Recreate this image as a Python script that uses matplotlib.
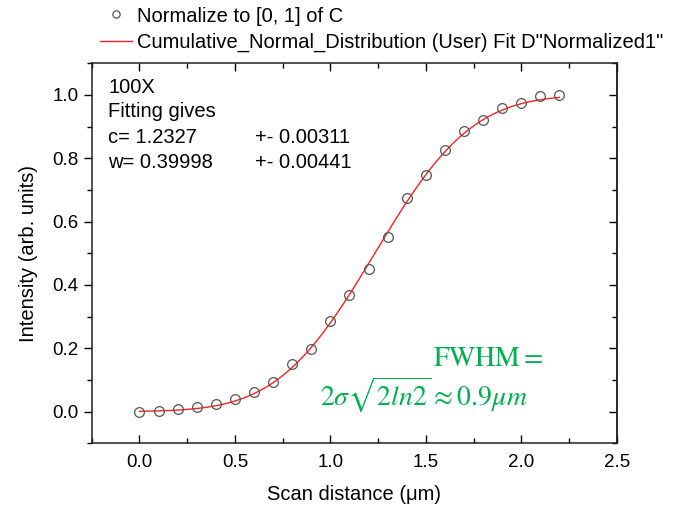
import math
import numpy as np
import matplotlib
matplotlib.use("Agg")
import matplotlib.pyplot as plt
from matplotlib.ticker import MultipleLocator

plt.rcParams['font.family'] = ['Liberation Sans', 'DejaVu Sans']
plt.rcParams['mathtext.fontset'] = 'stix'

# measured points (normalized intensity)
scan_x = [0.0, 0.1, 0.2, 0.3, 0.4, 0.5, 0.6, 0.7, 0.8, 0.9, 1.0, 1.1,
          1.2, 1.3, 1.4, 1.5, 1.6, 1.7, 1.8, 1.9, 2.0, 2.1, 2.2]
intensity = [0.000, 0.003, 0.008, 0.016, 0.024, 0.040, 0.061, 0.095, 0.150,
             0.199, 0.287, 0.367, 0.449, 0.552, 0.676, 0.746, 0.827, 0.885,
             0.920, 0.958, 0.976, 0.998, 1.000]

# fit parameters shown on the chart
c_fit = 1.2327
w_fit = 0.39998

xs = np.linspace(0, 2.2, 300)
fit_y = np.array([0.5 * (1 + math.erf((v - c_fit) / (w_fit * math.sqrt(2)))) for v in xs])

fig = plt.figure(figsize=(6.78, 5.05), dpi=100)
ax = fig.add_axes([0.1353, 0.1222, 0.7743, 0.7525])

pts, = ax.plot(scan_x, intensity, 'o', mfc='none', mec='#555555', mew=0.9,
               ms=7, label='Normalize to [0, 1] of C', zorder=3)
line, = ax.plot(xs, fit_y, '-', color='#ff2020', lw=1.0,
                label='Cumulative_Normal_Distribution (User) Fit D"Normalized1"', zorder=2)

ax.set_xlim(-0.25, 2.5)
ax.set_ylim(-0.1, 1.1)
ax.xaxis.set_major_locator(MultipleLocator(0.5))
ax.xaxis.set_minor_locator(MultipleLocator(0.25))
ax.yaxis.set_major_locator(MultipleLocator(0.2))
ax.yaxis.set_minor_locator(MultipleLocator(0.1))
ax.tick_params(axis='x', which='both', direction='in', top=True, bottom=True, labelsize=13.5, pad=8)
ax.tick_params(axis='y', which='both', direction='out', left=True, right=False, labelsize=13.5)
ax.tick_params(which='major', length=6, width=1.0)
ax.tick_params(which='minor', length=3.5, width=1.0)
ax.xaxis.set_major_formatter(plt.FuncFormatter(lambda v, p: f"{v:.1f}"))
ax.yaxis.set_major_formatter(plt.FuncFormatter(lambda v, p: f"{v:.1f}"))
# right-side ticks pointing in
sec = ax.secondary_yaxis('right')
sec.yaxis.set_major_locator(MultipleLocator(0.2))
sec.yaxis.set_minor_locator(MultipleLocator(0.1))
sec.tick_params(which='both', direction='in', labelright=False)
sec.tick_params(which='major', length=6, width=1.0)
sec.tick_params(which='minor', length=3.5, width=1.0)
for s in list(ax.spines.values()) + [sec.spines['right']]:
    s.set_linewidth(1.1)
    s.set_color('#222222')

ax.set_xlabel('Scan distance (μm)', fontsize=14.5, labelpad=10)
ax.set_ylabel('Intensity (arb. units)', fontsize=14.5, labelpad=10)

ax.legend(handles=[pts, line], loc='upper left', bbox_to_anchor=(0.136, 1.003),
          bbox_transform=fig.transFigure, frameon=False, fontsize=14.5,
          handlelength=1.6, handletextpad=0.2, labelspacing=0.35, markerscale=0.75,
          borderaxespad=0)

tb = dict(transform=ax.transAxes, fontsize=14.5, va='baseline')
ax.text(0.031, 0.923, '100X', **tb)
ax.text(0.031, 0.859, 'Fitting gives', **tb)
ax.text(0.031, 0.791, 'c= 1.2327', **tb)
ax.text(0.311, 0.791, '+- 0.00311', **tb)
ax.text(0.031, 0.725, 'w= 0.39998', **tb)
ax.text(0.311, 0.725, '+- 0.00441', **tb)

green = '#00b050'
ax.text(0.86, 0.203, r'$\mathrm{FWHM} =$', color=green, fontsize=20, ha='right',
        va='baseline', transform=ax.transAxes)
ax.text(0.831, 0.1, r'$2\sigma\sqrt{2ln2} \approx 0.9\mu m$', color=green, fontsize=20,
        ha='right', va='baseline', transform=ax.transAxes)

fig.savefig('out.png', dpi=100)
